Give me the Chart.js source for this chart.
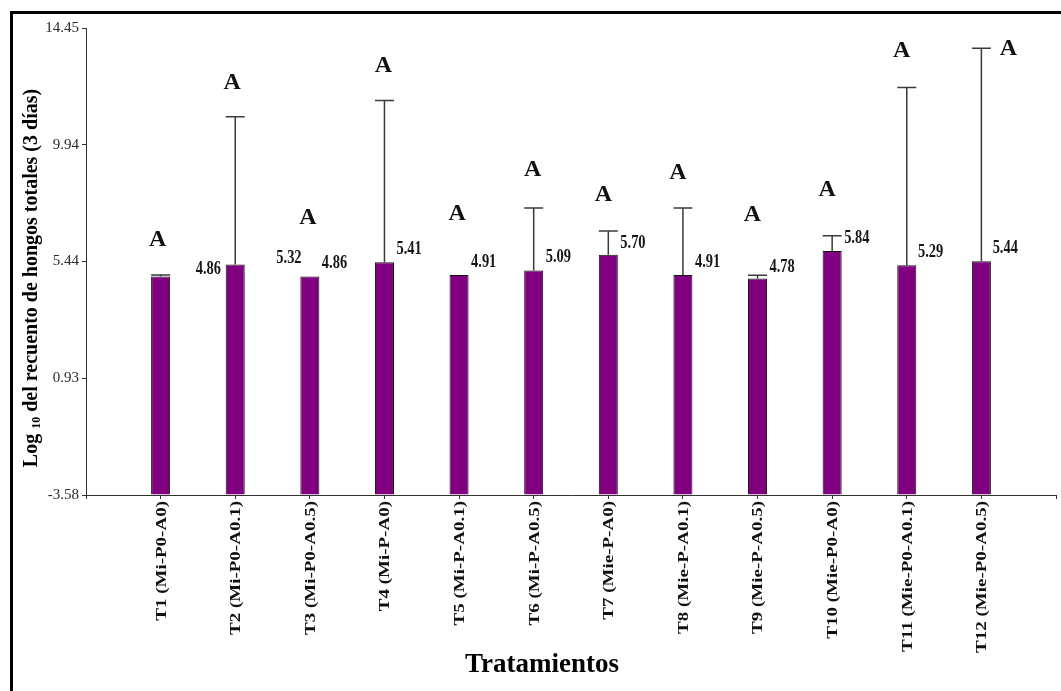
<!DOCTYPE html>
<html>
<head>
<meta charset="utf-8">
<script src="https://cdn.jsdelivr.net/npm/chart.js@4"></script>
<style>
  html, body { margin: 0; padding: 0; background: #fff; }
  #wrap { width: 1061px; height: 691px; position: relative; }
</style>
</head>
<body>
<div id="wrap"><canvas id="chart"></canvas></div>
<script>
// Treatments and their fungal counts (log10) after 3 days
const categories = [
  'T1 (Mi-P0-A0)', 'T2 (Mi-P0-A0.1)', 'T3 (Mi-P0-A0.5)', 'T4 (Mi-P-A0)',
  'T5 (Mi-P-A0.1)', 'T6 (Mi-P-A0.5)', 'T7 (Mie-P-A0)', 'T8 (Mie-P-A0.1)',
  'T9 (Mie-P-A0.5)', 'T10 (Mie-P0-A0)', 'T11 (Mie-P0-A0.1)', 'T12 (Mie-P0-A0.5)'
];
const means = [4.86, 5.32, 4.86, 5.41, 4.91, 5.09, 5.70, 4.91, 4.78, 5.84, 5.29, 5.44];
const errorUp = [0.05, 5.70, 0, 6.24, 0, 2.41, 0.91, 2.59, 0.12, 0.59, 6.86, 8.23];
const groups = ['A', 'A', 'A', 'A', 'A', 'A', 'A', 'A', 'A', 'A', 'A', 'A'];
const yTicks = [-3.58, 0.93, 5.44, 9.94, 14.45];

// Layout of the annotations (in category units / pixels)
const valueShift = [0.64, 0.72, 0.33, 0.33, 0.33, 0.33, 0.33, 0.33, 0.33, 0.33, 0.32, 0.32];
const valueLift  = [7, 6, 13, 13, 13, 13, 12, 13, 11, 13, 13, 13];
const letterDx   = [-3, -3, -2, -1, -2, -1, -5, -5, -5, -5, -5, 27];
const letterLift = [36, 35, 60, 36, 62, 39, 37, 36, 62, 47, 38, 0];

const yMin = yTicks[0], yMax = yTicks[yTicks.length - 1];
const labels = [''].concat(categories, ['']);
const data = [null].concat(means, [null]);

const serif = '"Liberation Serif", "Times New Roman", serif';

const annotate = {
  id: 'annotate',
  afterDraw(chart) {
    const ctx = chart.ctx;
    const xs = chart.scales.x, ys = chart.scales.y;

    // error bars (upper whisker only)
    ctx.save();
    ctx.strokeStyle = '#3a3a3a';
    ctx.lineWidth = 1.5;
    means.forEach((m, i) => {
      if (!errorUp[i]) return;
      const x = xs.getPixelForTick(i + 1);
      const y0 = ys.getPixelForValue(m);
      const y1 = ys.getPixelForValue(m + errorUp[i]);
      ctx.beginPath();
      ctx.moveTo(x, y0); ctx.lineTo(x, y1);
      ctx.moveTo(x - 9.5, y1); ctx.lineTo(x + 9.5, y1);
      ctx.stroke();
    });
    ctx.restore();

    // value labels
    ctx.save();
    ctx.fillStyle = '#161616';
    ctx.font = 'bold 19px ' + serif;
    ctx.textAlign = 'center';
    ctx.textBaseline = 'middle';
    means.forEach((m, i) => {
      const x = xs.getPixelForValue(i + 1 + valueShift[i]);
      const y = ys.getPixelForValue(m) - valueLift[i];
      ctx.save();
      ctx.translate(x, y);
      ctx.scale(0.76, 1);
      ctx.fillText(m.toFixed(2), 0, 0);
      ctx.restore();
    });
    ctx.restore();

    // significance letters
    ctx.save();
    ctx.fillStyle = '#111';
    ctx.font = 'bold 24px ' + serif;
    ctx.textAlign = 'center';
    ctx.textBaseline = 'middle';
    groups.forEach((g, i) => {
      const x = xs.getPixelForTick(i + 1) + letterDx[i];
      const y = ys.getPixelForValue(means[i] + errorUp[i]) - letterLift[i];
      ctx.fillText(g, x, y + 1);
    });
    ctx.restore();

    // rotated category labels
    ctx.save();
    ctx.fillStyle = '#111';
    ctx.font = 'bold 19px ' + serif;
    ctx.textAlign = 'right';
    ctx.textBaseline = 'middle';
    categories.forEach((c, i) => {
      const x = xs.getPixelForTick(i + 1);
      ctx.save();
      ctx.translate(x + 1, xs.top + 6);
      ctx.rotate(-Math.PI / 2);
      ctx.scale(1, 0.8);
      ctx.fillText(c, 0, 0);
      ctx.restore();
    });
    ctx.restore();

    // x axis title
    ctx.save();
    ctx.fillStyle = '#000';
    ctx.font = 'bold 27px ' + serif;
    ctx.textAlign = 'center';
    ctx.textBaseline = 'alphabetic';
    ctx.fillText('Tratamientos', 542, 672);
    ctx.restore();

    // y axis title with subscript
    ctx.save();
    ctx.fillStyle = '#000';
    ctx.translate(32, 278);
    ctx.rotate(-Math.PI / 2);
    ctx.textBaseline = 'middle';
    ctx.textAlign = 'left';
    const big = 'bold 20px ' + serif, small = 'bold 12px ' + serif;
    const p1 = 'Log ', sub = '10', p2 = ' del recuento de hongos totales (3 días)';
    ctx.font = big; const w1 = ctx.measureText(p1).width, w3 = ctx.measureText(p2).width;
    ctx.font = small; const w2 = ctx.measureText(sub).width;
    let sx = -(w1 + w2 + w3) / 2;
    ctx.font = big; ctx.fillText(p1, sx, 0); sx += w1;
    ctx.font = small; ctx.fillText(sub, sx, 5); sx += w2;
    ctx.font = big; ctx.fillText(p2, sx, 0);
    ctx.restore();

    // outer frame (top and left edges)
    ctx.save();
    ctx.strokeStyle = '#000';
    ctx.lineWidth = 3;
    ctx.beginPath();
    ctx.moveTo(11.5, 691); ctx.lineTo(11.5, 12.5); ctx.lineTo(1061, 12.5);
    ctx.stroke();
    ctx.restore();
  }
};

new Chart(document.getElementById('chart'), {
  type: 'bar',
  data: {
    labels: labels,
    datasets: [{
      data: data,
      base: yMin,
      backgroundColor: '#800080',
      borderColor: '#111',
      borderWidth: 1,
      borderSkipped: 'start',
      categoryPercentage: 1,
      barPercentage: 0.255
    }]
  },
  options: {
    responsive: true,
    maintainAspectRatio: false,
    animation: false,
    devicePixelRatio: 1,
    layout: { padding: { left: 0, top: 28, right: 5, bottom: 0 } },
    plugins: { legend: { display: false }, tooltip: { enabled: false } },
    scales: {
      x: {
        type: 'category',
        offset: false,
        grid: { display: true, offset: false, drawOnChartArea: false, drawTicks: true, tickLength: 4, color: '#333' },
        border: { display: true, color: '#333', width: 1 },
        ticks: { display: false },
        afterFit(scale) { scale.height = 196; }
      },
      y: {
        min: yMin,
        max: yMax,
        grid: { display: true, drawOnChartArea: false, drawTicks: true, tickLength: 4, color: '#333' },
        border: { display: true, color: '#333', width: 1 },
        afterBuildTicks(scale) { scale.ticks = yTicks.map(v => ({ value: v })); },
        ticks: {
          padding: 3,
          color: '#2a2a2a',
          font: { family: serif, size: 15 },
          callback: v => Number(v).toFixed(2)
        },
        afterFit(scale) { scale.width = 86; }
      }
    }
  },
  plugins: [annotate]
});
</script>
</body>
</html>
